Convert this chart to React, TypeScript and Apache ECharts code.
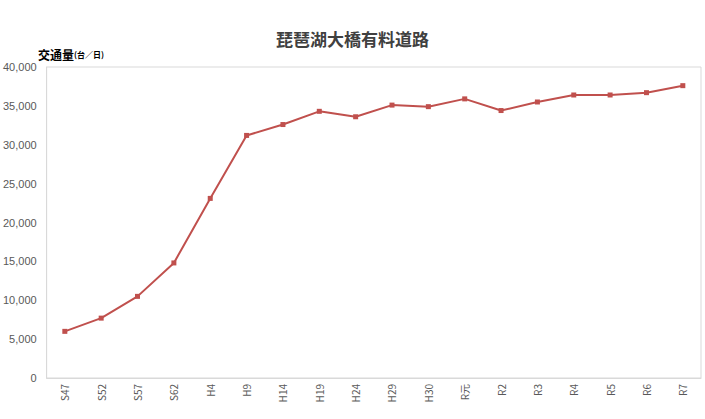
import React, { useEffect, useRef } from "react";
import * as echarts from "echarts";

const categories = ["S47", "S52", "S57", "S62", "H4", "H9", "H14", "H19", "H24", "H29", "H30", "R元", "R2", "R3", "R4", "R5", "R6", "R7"];
const traffic = [6000, 7700, 10500, 14800, 23100, 31200, 32600, 34300, 33600, 35100, 34900, 35900, 34400, 35500, 36400, 36400, 36700, 37600];
const titleText = "琵琶湖大橋有料道路";
const yAxisMain = "交通量";
const yAxisUnit = "(台／日)";

export default function App() {
  const ref = useRef<HTMLDivElement>(null);
  useEffect(() => {
    document.body.style.margin = "0";
    const chart = echarts.init(ref.current!, null, { renderer: "svg" });
    chart.setOption({
      animation: false,
      backgroundColor: "#ffffff",
      title: {
        text: titleText,
        left: "center",
        top: 25,
        textStyle: {
          fontFamily: "Noto Sans CJK JP",
          fontSize: 17,
          fontWeight: "bold",
          color: "#404040",
        },
      },
      graphic: [
        {
          type: "text",
          left: 38,
          top: 48,
          style: {
            text: `{a|${yAxisMain}}{b|${yAxisUnit}}`,
            rich: {
              a: { fontFamily: "Noto Sans CJK JP", fontSize: 12, fontWeight: "bold", fill: "#000000" },
              b: { fontFamily: "Noto Sans CJK JP", fontSize: 8, fontWeight: "bold", fill: "#000000" },
            },
          },
        },
      ],
      grid: {
        left: 46,
        right: 4,
        top: 67,
        bottom: 41,
        show: true,
        borderColor: "#d9d9d9",
        borderWidth: 1,
      },
      xAxis: {
        type: "category",
        data: categories,
        boundaryGap: true,
        axisLine: { lineStyle: { color: "#d9d9d9" } },
        axisTick: { show: false },
        axisLabel: {
          rotate: 90,
          interval: 0,
          margin: 6,
          fontSize: 10,
          color: "#595959",
          fontFamily: "Noto Sans CJK JP",
        },
      },
      yAxis: {
        type: "value",
        min: 0,
        max: 40000,
        interval: 5000,
        axisLine: { show: true, lineStyle: { color: "#d9d9d9" } },
        axisTick: { show: false },
        splitLine: { show: false },
        axisLabel: {
          margin: 10,
          fontSize: 11,
          color: "#595959",
          fontFamily: "Liberation Sans",
          formatter: (v: number) => v.toLocaleString("en-US"),
        },
      },
      series: [
        {
          type: "line",
          data: traffic,
          symbol: "rect",
          symbolSize: 5,
          lineStyle: { color: "#c0504d", width: 2 },
          itemStyle: { color: "#c0504d" },
        },
      ],
    });
    return () => chart.dispose();
  }, []);
  return <div ref={ref} style={{ width: 705, height: 419 }} />;
}
